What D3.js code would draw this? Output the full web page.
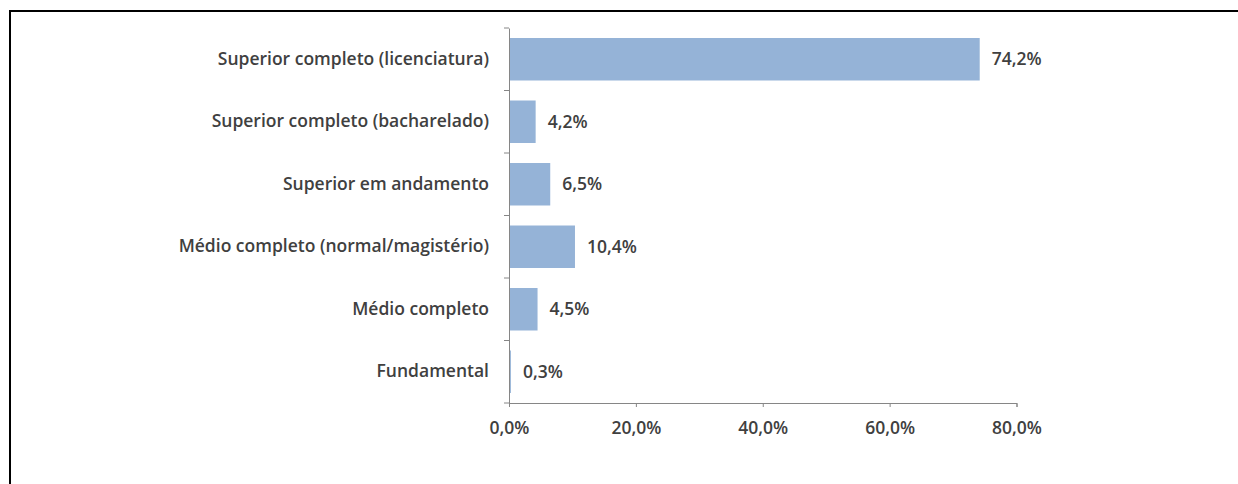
<!DOCTYPE html>
<html><head><meta charset="utf-8">
<script src="https://cdn.jsdelivr.net/npm/d3@7/dist/d3.min.js"></script>
<style>body{margin:0;background:#fff;}svg{display:block;}</style>
</head><body>
<svg id="c" width="1238" height="484"></svg>
<script>
const categories = ["Superior completo (licenciatura)","Superior completo (bacharelado)","Superior em andamento","Médio completo (normal/magistério)","Médio completo","Fundamental"];
const values = [74.2, 4.2, 6.5, 10.4, 4.5, 0.3];
const tickValues = [0, 20, 40, 60, 80];

const svg = d3.select("#c");
const font = "'Open Sans', sans-serif";
const textColor = "#404040";
const fs = 17.5;
// frame
svg.append("line").attr("x1",10).attr("x2",1238).attr("y1",11).attr("y2",11).attr("stroke","#000").attr("stroke-width",2);
svg.append("line").attr("x1",10).attr("x2",10).attr("y1",10).attr("y2",484).attr("stroke","#000").attr("stroke-width",2);

const x = d3.scaleLinear().domain([0,80]).range([509,1016.5]);
const y = d3.scaleBand().domain(categories).range([28,403]).paddingInner(0.32).paddingOuter(0.16);

const g = svg.append("g");
g.selectAll("rect.bar").data(values).join("rect").attr("class","bar")
  .attr("x",x(0)).attr("y",(d,i)=>y(categories[i]))
  .attr("width",d=>x(d)-x(0)).attr("height",y.bandwidth()).attr("fill","#95b3d7");

g.selectAll("text.val").data(values).join("text").attr("class","val")
  .attr("x",d=>x(d)+12).attr("y",(d,i)=>y(categories[i])+y.bandwidth()/2)
  .attr("dy","0.35em").attr("font-family",font).attr("font-size",fs).attr("font-weight",600).attr("fill",textColor)
  .text(d=>d.toFixed(1).replace(".",",")+"%");

const xAxis = d3.axisBottom(x).tickValues(tickValues).tickSize(4).tickSizeOuter(4)
  .tickFormat(d=>d.toFixed(1).replace(".",",")+"%");
const ax = svg.append("g").attr("transform","translate(0,403)").call(xAxis);
ax.select(".domain").attr("stroke","#868686");
ax.selectAll(".tick line").attr("stroke","#868686");
ax.selectAll(".tick text").attr("font-family",font).attr("font-size",fs).attr("font-weight",600).attr("fill",textColor).attr("y",19);

const yAxis = d3.axisLeft(y).tickSize(0).tickSizeOuter(0).tickPadding(20);
const ay = svg.append("g").attr("transform","translate(509,0)").call(yAxis);
ay.select(".domain").attr("stroke","#868686");
ay.selectAll(".tick text").attr("font-family",font).attr("font-size",fs).attr("font-weight",600).attr("fill",textColor);
// boundary ticks between categories
const bounds = d3.range(categories.length+1).map(i=>28 + i*(403-28)/categories.length);
svg.append("g").selectAll("line").data(bounds).join("line")
  .attr("x1",504).attr("x2",509).attr("y1",d=>d).attr("y2",d=>d).attr("stroke","#868686");
</script>
</body></html>
